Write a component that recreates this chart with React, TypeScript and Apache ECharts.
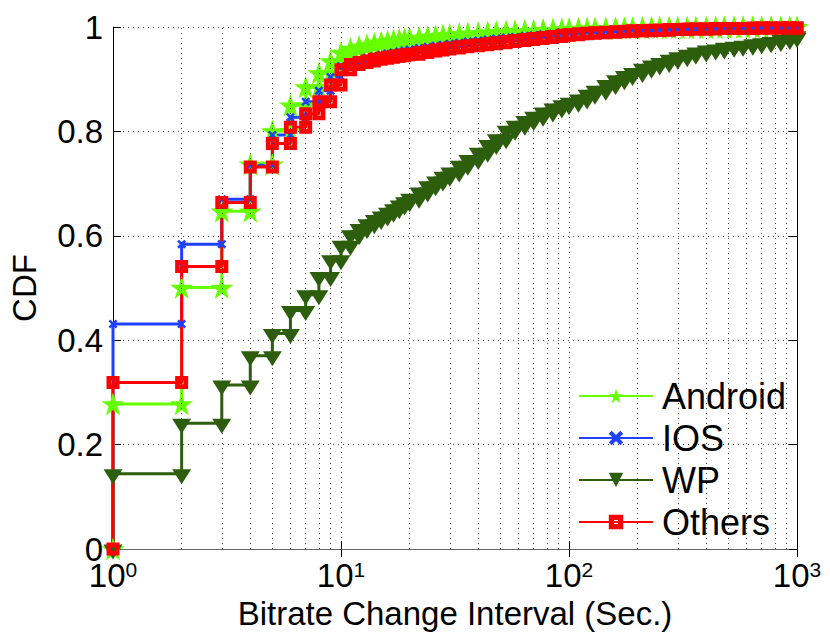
import React, { useEffect, useRef } from 'react';
import * as echarts from 'echarts';

// Bitrate change interval (seconds): step positions of each CDF
const intervalsSec = [
  1, 2, 3, 4, 5, 6, 7, 8, 9, 10,
  11, 12, 13, 14, 15, 16, 17, 18, 19, 20,
  22, 24, 26, 28, 30, 33, 36, 40, 44, 48,
  53, 58, 64, 70, 77, 85, 93, 100,
  110, 120, 130, 145, 160, 175, 190, 210, 230, 250,
  275, 300, 330, 360, 400, 440, 480, 530, 580, 640,
  700, 770, 850, 930, 1000,
];

const android = [
  0.278, 0.501, 0.647, 0.737, 0.801, 0.850, 0.885, 0.912, 0.935, 0.951,
  0.959, 0.963, 0.966, 0.969, 0.971, 0.973, 0.975, 0.976, 0.977, 0.978,
  0.980, 0.982, 0.983, 0.984, 0.985, 0.987, 0.988, 0.989, 0.990, 0.991,
  0.992, 0.993, 0.993, 0.994, 0.995, 0.995, 0.996, 0.996,
  0.997, 0.997, 0.997, 0.998, 0.998, 0.998, 0.998, 0.999, 0.999, 0.999,
  0.999, 0.999, 0.999, 0.999, 0.999, 1, 1, 1, 1, 1,
  1, 1, 1, 1, 1,
];

const ios = [
  0.431, 0.584, 0.670, 0.735, 0.793, 0.827, 0.857, 0.878, 0.904, 0.925,
  0.932, 0.937, 0.941, 0.944, 0.947, 0.949, 0.951, 0.953, 0.955, 0.957,
  0.960, 0.962, 0.964, 0.966, 0.968, 0.970, 0.972, 0.974, 0.976, 0.978,
  0.980, 0.981, 0.983, 0.984, 0.986, 0.987, 0.988, 0.989,
  0.990, 0.991, 0.992, 0.993, 0.993, 0.994, 0.994, 0.995, 0.995, 0.996,
  0.996, 0.996, 0.997, 0.997, 0.997, 0.998, 0.998, 0.998, 0.998, 0.999,
  0.999, 0.999, 0.999, 0.999, 1,
];

const wp = [
  0.144, 0.241, 0.314, 0.370, 0.413, 0.457, 0.487, 0.522, 0.554, 0.582,
  0.602, 0.614, 0.623, 0.631, 0.638, 0.645, 0.652, 0.659, 0.665, 0.672,
  0.684, 0.696, 0.705, 0.714, 0.722, 0.735, 0.746, 0.760, 0.775, 0.786,
  0.802, 0.812, 0.821, 0.829, 0.837, 0.845, 0.851, 0.856,
  0.862, 0.871, 0.879, 0.890, 0.899, 0.907, 0.913, 0.921, 0.927, 0.932,
  0.938, 0.943, 0.948, 0.952, 0.956, 0.958, 0.961, 0.963, 0.965, 0.968,
  0.970, 0.972, 0.976, 0.980, 0.983,
];

const others = [
  0.319, 0.541, 0.664, 0.732, 0.777, 0.808, 0.834, 0.857, 0.889, 0.918,
  0.928, 0.932, 0.935, 0.938, 0.940, 0.942, 0.944, 0.945, 0.947, 0.948,
  0.951, 0.954, 0.956, 0.958, 0.960, 0.962, 0.964, 0.966, 0.968, 0.970,
  0.972, 0.974, 0.976, 0.978, 0.980, 0.982, 0.984, 0.985,
  0.987, 0.988, 0.989, 0.990, 0.991, 0.992, 0.993, 0.993, 0.994, 0.994,
  0.995, 0.995, 0.996, 0.996, 0.996, 0.997, 0.997, 0.997, 0.997, 0.998,
  0.998, 0.998, 0.998, 0.998, 0.998,
];

const seriesNames = ['Android', 'IOS', 'WP', 'Others'];
const minorGridX = [2, 3, 4, 5, 6, 7, 8, 9, 20, 30, 40, 50, 60, 70, 80, 90, 200, 300, 400, 500, 600, 700, 800, 900];
const yTicks = { min: 0, max: 1, step: 0.2 };
const xRange = { min: 1, max: 1000 };

const STAR = 'path://M50,0 L61.2,34.5 L97.6,34.5 L68.2,55.9 L79.4,90.5 L50,69.1 L20.6,90.5 L31.8,55.9 L2.4,34.5 L38.8,34.5 Z';
const XMARK = 'path://M2,0 L5,3 L8,0 L10,2 L7,5 L10,8 L8,10 L5,7 L2,10 L0,8 L3,5 L0,2 Z';
const TRI_DOWN = 'path://M0,0 L20,0 L10,15 Z';
const HOLLOW_SQ = 'path://M0,0 H10 V10 H0 Z M3.6,3.6 V6.4 H6.4 V3.6 Z';

function stairs(xs: number[], ys: number[]) {
  const pts: number[][] = [[xs[0], 0]];
  for (let i = 0; i < xs.length; i++) {
    pts.push([xs[i], ys[i]]);
    if (i < xs.length - 1) pts.push([xs[i + 1], ys[i]]);
  }
  return pts;
}

const FONT = 'Liberation Sans, Arial, Helvetica, sans-serif';
const dotted = { type: [1, 4] as any, color: '#444', width: 1 };

export default function App() {
  const ref = useRef<HTMLDivElement>(null);
  useEffect(() => {
    const chart = echarts.init(ref.current!, null, { renderer: 'svg' });
    const lineSeries = (name: string, ys: number[], color: string, symbol: string, size: any, extra: any = {}) => ({
      name,
      type: 'line',
      data: stairs(intervalsSec, ys),
      xAxisIndex: 0,
      yAxisIndex: 0,
      symbol,
      symbolSize: size,
      showSymbol: true,
      lineStyle: { color, width: 3 },
      itemStyle: { color, opacity: 1 },
      z: 3,
      ...extra,
    });
    const option: any = {
      animation: false,
      textStyle: { fontFamily: FONT },
      grid: { left: 110, right: 33, top: 27, bottom: 95, containLabel: false },
      legend: {
        data: seriesNames,
        orient: 'vertical',
        left: 578,
        top: 378,
        padding: 0,
        itemWidth: 74,
        itemHeight: 18,
        itemGap: 6,
        textStyle: { fontSize: 36, color: '#000', fontFamily: FONT, lineHeight: 36, padding: [0, 0, 0, 4] },
        backgroundColor: 'transparent',
      },
      xAxis: [
        {
          type: 'log',
          logBase: 10,
          min: xRange.min,
          max: xRange.max,
          position: 'bottom',
          name: 'Bitrate Change Interval (Sec.)',
          nameLocation: 'middle',
          nameGap: 45,
          nameTextStyle: { fontSize: 33, color: '#000', fontFamily: FONT },
          axisLine: { show: true, lineStyle: { color: '#000', width: 1 } },
          axisTick: { show: true, inside: true, length: 8, lineStyle: { color: '#000' } },
          axisLabel: {
            margin: 10,
            formatter: (v: number) => `{b|10}{e|${Math.round(Math.log10(v))}}`,
            rich: {
              b: { fontSize: 33, lineHeight: 33, color: '#000', fontFamily: FONT, verticalAlign: 'bottom', padding: [14, 0, 0, 0] },
              e: { fontSize: 21, lineHeight: 21, color: '#000', fontFamily: FONT, verticalAlign: 'top' },
            },
          },
          splitLine: { show: true, lineStyle: dotted },
        },
        {
          type: 'log',
          logBase: 10,
          min: xRange.min,
          max: xRange.max,
          position: 'top',
          axisLine: { show: true, lineStyle: { color: '#666', width: 1 } },
          axisTick: { show: true, inside: true, length: 8, lineStyle: { color: '#000' } },
          axisLabel: { show: false },
          splitLine: { show: false },
        },
      ],
      yAxis: [
        {
          type: 'value',
          min: yTicks.min,
          max: yTicks.max,
          interval: yTicks.step,
          name: 'CDF',
          nameLocation: 'middle',
          nameGap: 72,
          nameTextStyle: { fontSize: 33, color: '#000', fontFamily: FONT },
          axisLine: { show: true, lineStyle: { color: '#000', width: 1 } },
          axisTick: { show: true, inside: true, length: 8, lineStyle: { color: '#000' } },
          axisLabel: {
            margin: 10,
            fontSize: 33,
            color: '#000',
            fontFamily: FONT,
            formatter: (v: number) => (v === 0 ? '0' : v === 1 ? '1' : v.toFixed(1)),
          },
          splitLine: { show: true, lineStyle: dotted },
        },
        {
          type: 'value',
          min: yTicks.min,
          max: yTicks.max,
          interval: yTicks.step,
          position: 'right',
          axisLine: { show: true, lineStyle: { color: '#000', width: 1 } },
          axisTick: { show: true, inside: true, length: 8, lineStyle: { color: '#000' } },
          axisLabel: { show: false },
          splitLine: { show: false },
        },
      ],
      series: [
        {
          name: '__grid',
          type: 'line',
          xAxisIndex: 0,
          yAxisIndex: 0,
          data: [[1, 0]],
          symbol: 'none',
          lineStyle: { width: 0, opacity: 0 },
          silent: true,
          z: 1,
          markLine: {
            silent: true,
            symbol: ['none', 'none'],
            label: { show: false },
            lineStyle: dotted,
            data: minorGridX.map((v) => ({ xAxis: v })),
          },
        },
        lineSeries('Android', android, '#66FF00', STAR, 23),
        lineSeries('IOS', ios, '#2040FF', XMARK, 9),
        lineSeries('WP', wp, '#2D5E0C', TRI_DOWN, [19, 15], { symbolOffset: [0, 3] }),
        lineSeries('Others', others, '#FF0000', HOLLOW_SQ, 13),
      ],
    };
    chart.setOption(option);
    return () => chart.dispose();
  }, []);
  return (
    <div
      ref={ref}
      style={{ position: 'fixed', left: 0, top: 0, width: 830, height: 644, background: '#fff' }}
    />
  );
}
